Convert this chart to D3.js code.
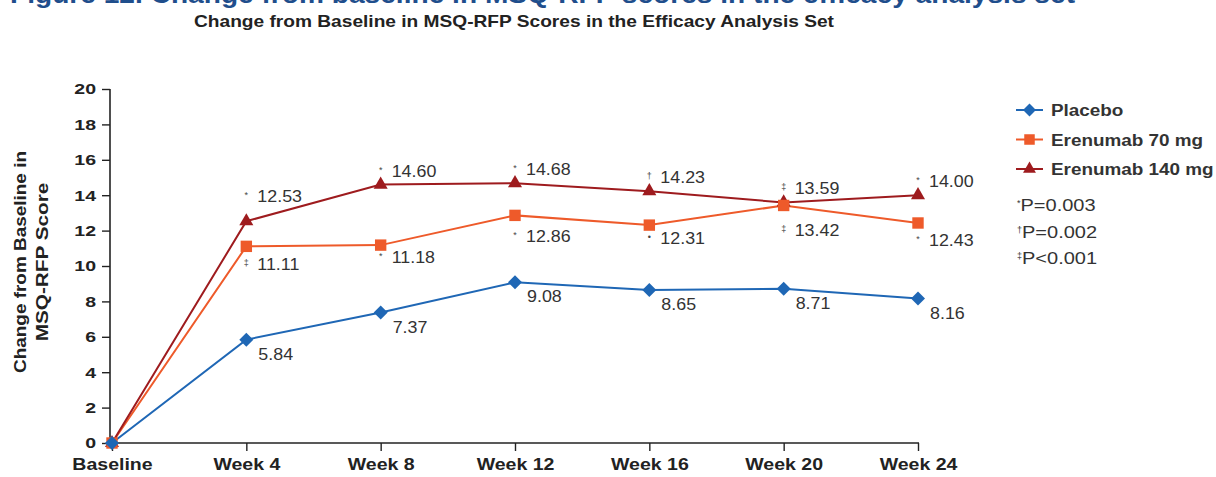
<!DOCTYPE html>
<html>
<head>
<meta charset="utf-8">
<script src="https://cdn.jsdelivr.net/npm/d3@7"></script>
<style>
  body { margin: 0; background: #fff; }
  svg { display: block; font-family: Arial, "Liberation Sans", sans-serif; }
</style>
</head>
<body>
<div id="chart"></div>
<script>
var categories = ["Baseline", "Week 4", "Week 8", "Week 12", "Week 16", "Week 20", "Week 24"];
var placebo = [0, 5.84, 7.37, 9.08, 8.65, 8.71, 8.16];
var erenumab70 = [0, 11.11, 11.18, 12.86, 12.31, 13.42, 12.43];
var erenumab140 = [0, 12.53, 14.60, 14.68, 14.23, 13.59, 14.00];
var sig70 = ["", "‡", "*", "*", "•", "‡", "*"];
var sig140 = ["", "*", "*", "*", "†", "‡", "*"];
var yTicks = [0, 2, 4, 6, 8, 10, 12, 14, 16, 18, 20];
var pSymbols = ["*", "†", "‡"];
var pNotes = ["P=0.003", "P=0.002", "P<0.001"];

var width = 1216, height = 477;

// the source image is stretched sideways, so widen text to match
function stretch(sel, f) {
  sel.each(function () {
    var w = this.getComputedTextLength();
    d3.select(this).attr("textLength", w * f).attr("lengthAdjust", "spacingAndGlyphs");
  });
}

var svg = d3.select("#chart").append("svg")
    .attr("width", width)
    .attr("height", height);

// clipped figure heading at the very top
svg.append("text")
    .attr("x", 10).attr("y", 3)
    .style("font-size", "26px").style("font-weight", "bold")
    .style("fill", "#1f4e8c")
    .text("Figure 12. Change from baseline in MSQ-RFP scores in the efficacy analysis set")
    .attr("textLength", 1065).attr("lengthAdjust", "spacingAndGlyphs");

svg.append("text")
    .attr("x", 514).attr("y", 27)
    .attr("text-anchor", "middle")
    .style("font-size", "17px").style("font-weight", "bold")
    .style("fill", "#222")
    .text("Change from Baseline in MSQ-RFP Scores in the Efficacy Analysis Set")
    .attr("textLength", 640).attr("lengthAdjust", "spacingAndGlyphs");

var x = d3.scalePoint().domain(categories).range([112, 918]);
var y = d3.scaleLinear().domain([0, 20]).range([443, 89]);

// y axis
var yAxis = svg.append("g")
    .attr("transform", "translate(110,0)")
    .call(d3.axisLeft(y).tickValues(yTicks).tickSize(8).tickPadding(6).tickFormat(d3.format("d")));
yAxis.select(".domain").attr("d", "M0," + y(20) + "V" + y(0)).attr("stroke", "#222").attr("stroke-width", 1.6);
yAxis.selectAll(".tick line").attr("stroke", "#222").attr("stroke-width", 1.4);
yAxis.selectAll(".tick text")
    .style("font-size", "15px").style("font-weight", "bold").style("fill", "#222")
    .style("font-family", "Arial, 'Liberation Sans', sans-serif")
    .call(stretch, 1.3);

// x axis
var xAxis = svg.append("g")
    .attr("transform", "translate(0," + y(0) + ")")
    .call(d3.axisBottom(x).tickSize(8).tickPadding(8));
xAxis.select(".domain").attr("d", "M110,0H919").attr("stroke", "#222").attr("stroke-width", 1.6);
xAxis.selectAll(".tick line").attr("stroke", "#222").attr("stroke-width", 1.4);
xAxis.selectAll(".tick text")
    .style("font-size", "16px").style("font-weight", "bold").style("fill", "#222")
    .style("font-family", "Arial, 'Liberation Sans', sans-serif")
    .call(stretch, 1.22);

// y axis title
svg.append("text")
    .attr("transform", "translate(26,262) rotate(-90)")
    .attr("text-anchor", "middle")
    .style("font-size", "17px").style("font-weight", "bold").style("fill", "#222")
    .text("Change from Baseline in")
    .attr("textLength", 222).attr("lengthAdjust", "spacingAndGlyphs");
svg.append("text")
    .attr("transform", "translate(48,262) rotate(-90)")
    .attr("text-anchor", "middle")
    .style("font-size", "17px").style("font-weight", "bold").style("fill", "#222")
    .text("MSQ-RFP Score")
    .call(stretch, 1.22);

var diamond = { draw: function (ctx, size) {
  var r = Math.sqrt(size) / 2;
  ctx.moveTo(0, -r); ctx.lineTo(r, 0); ctx.lineTo(0, r); ctx.lineTo(-r, 0); ctx.closePath();
} };

var series = [
  { name: "Placebo", values: placebo, color: "#1f67b5", shape: diamond, size: 196 },
  { name: "Erenumab 70 mg", values: erenumab70, color: "#ee5a2a", shape: d3.symbolSquare, size: 130 },
  { name: "Erenumab 140 mg", values: erenumab140, color: "#9e1b1e", shape: d3.symbolTriangle, size: 85 }
];

var line = d3.line()
    .x(function (d, i) { return x(categories[i]); })
    .y(function (d) { return y(d); });

series.forEach(function (s) {
  svg.append("path")
      .datum(s.values)
      .attr("d", line)
      .attr("fill", "none")
      .attr("stroke", s.color)
      .attr("stroke-width", 2);
});

series.slice().reverse().forEach(function (s) {
  svg.selectAll(null)
      .data(s.values)
      .enter().append("path")
      .attr("transform", function (d, i) { return "translate(" + x(categories[i]) + "," + y(d) + ")"; })
      .attr("d", d3.symbol().type(s.shape).size(s.size))
      .attr("fill", s.color);
});

// value labels
function labelStyle(t) {
  t.style("font-size", "17px").style("fill", "#333");
}

// placebo below-right
svg.selectAll(null).data(placebo.slice(1)).enter().append("text")
    .attr("x", function (d, i) { return x(categories[i + 1]) + 12; })
    .attr("y", function (d, i) { return y(d) + 20; })
    .text(function (d) { return d.toFixed(2); })
    .call(labelStyle)
    .call(stretch, 1.05);

// 140 mg above-right
var dy140 = [0, -19, -8, -8, -8, -8, -8];
svg.selectAll(null).data(erenumab140.slice(1)).enter().append("text")
    .attr("x", function (d, i) { return x(categories[i + 1]) + 11; })
    .attr("y", function (d, i) { return y(d) + dy140[i + 1]; })
    .text(function (d) { return d.toFixed(2); })
    .call(labelStyle)
    .call(stretch, 1.05);
svg.selectAll(null).data(erenumab140.slice(1)).enter().append("text")
    .attr("x", function (d, i) { return x(categories[i + 1]); })
    .attr("y", function (d, i) { return y(d) + dy140[i + 1] - 4; })
    .attr("text-anchor", "middle")
    .style("font-size", "9px").style("fill", "#444")
    .text(function (d, i) { return sig140[i + 1]; });

// 70 mg below-right
var dy70 = [0, 24, 18, 27, 19, 31, 23];
svg.selectAll(null).data(erenumab70.slice(1)).enter().append("text")
    .attr("x", function (d, i) { return x(categories[i + 1]) + 11; })
    .attr("y", function (d, i) { return y(d) + dy70[i + 1]; })
    .text(function (d) { return d.toFixed(2); })
    .call(labelStyle)
    .call(stretch, 1.05);
svg.selectAll(null).data(erenumab70.slice(1)).enter().append("text")
    .attr("x", function (d, i) { return x(categories[i + 1]); })
    .attr("y", function (d, i) { return y(d) + dy70[i + 1] - 4; })
    .attr("text-anchor", "middle")
    .style("font-size", "9px").style("fill", "#444")
    .text(function (d, i) { return sig70[i + 1]; });

// legend
var legend = svg.append("g").attr("transform", "translate(1016,110)");
series.forEach(function (s, i) {
  var g = legend.append("g").attr("transform", "translate(0," + i * 29.5 + ")");
  g.append("line").attr("x1", 0).attr("x2", 27).attr("stroke", s.color).attr("stroke-width", 2);
  g.append("path").attr("transform", "translate(13.5,0)")
      .attr("d", d3.symbol().type(s.shape).size(s.size * 0.85))
      .attr("fill", s.color);
  g.append("text").attr("x", 35).attr("y", 6)
      .style("font-size", "16px").style("font-weight", "bold").style("fill", "#333")
      .text(s.name)
      .call(stretch, 1.18);
});
var notes = legend.selectAll(null).data(pNotes).enter().append("text")
    .attr("x", 1)
    .attr("y", function (d, i) { return 101 + i * 26.5; })
    .style("font-size", "16px").style("fill", "#333");
notes.append("tspan")
    .attr("dy", -5)
    .style("font-size", "9px")
    .text(function (d, i) { return pSymbols[i]; });
notes.append("tspan")
    .attr("dy", 5)
    .text(function (d) { return d; });
notes.each(function () {
  var t = d3.select(this).select("tspan:last-child");
  t.attr("textLength", this.lastChild.getComputedTextLength() * 1.25).attr("lengthAdjust", "spacingAndGlyphs");
});
</script>
</body>
</html>
